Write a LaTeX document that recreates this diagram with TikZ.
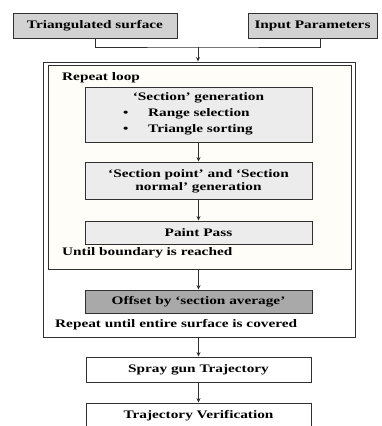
\documentclass[tikz,border=0pt]{standalone}
\usepackage{fontspec}
\setmainfont{Liberation Serif}[FakeStretch=1.33]
\usetikzlibrary{arrows.meta}
\definecolor{topgray}{HTML}{D2D2D2}
\definecolor{secgray}{HTML}{ECECEC}
\definecolor{offgray}{HTML}{A9A9A9}
\definecolor{cream}{HTML}{FFFDF7}
\definecolor{linecol}{HTML}{303030}
\begin{document}
\begin{tikzpicture}[x=1pt,y=-1pt,
  font=\fontsize{11.5}{13}\selectfont\bfseries,
  box/.style={draw=linecol, line width=0.9pt, inner sep=0pt, align=center},
  frame/.style={draw=linecol, line width=0.9pt, inner sep=0pt},
  plain/.style={inner sep=0pt},
  arr/.style={draw=linecol, line width=0.8pt, -{Stealth[length=4.5pt,width=4pt]}},
  link/.style={draw=linecol, line width=0.8pt}]
\useasboundingbox[fill=white] (0,0) rectangle (382,426);

\node[box, fill=topgray, minimum width=164pt, minimum height=25pt] (tri) at (95,25.5) {Triangulated surface};
\node[box, fill=topgray, minimum width=129pt, minimum height=25pt] (inp) at (312.5,25.5) {Input Parameters};

\node[frame, minimum width=312pt, minimum height=275pt] (outer) at (199,199.5) {};
\node[frame, fill=cream, minimum width=303pt, minimum height=204pt] (inner) at (199.5,167) {};

\node[plain, anchor=west] (rl) at (62,78) {Repeat loop};

\node[box, fill=secgray, minimum width=227pt, minimum height=55pt] (sec) at (198.5,114.5) {};
\node[plain] (sect) at (198.5,98) {`Section' generation};
\node[plain, anchor=west] (b1) at (123,113.5) {•};
\node[plain, anchor=west] (r1) at (148,113.5) {Range selection};
\node[plain, anchor=west] (b2) at (123,129.5) {•};
\node[plain, anchor=west] (r2) at (148,129.5) {Triangle sorting};

\node[box, fill=secgray, minimum width=227pt, minimum height=37pt] (pt) at (198.5,180.5) {};
\node[plain] (ptt1) at (198.5,174.5) {`Section point' and `Section};
\node[plain] (ptt2) at (198.5,188) {normal' generation};

\node[box, fill=secgray, minimum width=227pt, minimum height=23pt] (paint) at (198.5,232.5) {Paint Pass};
\node[plain, anchor=west] (ub) at (62,253) {Until boundary is reached};

\node[box, fill=offgray, minimum width=227pt, minimum height=23pt] (off) at (198.5,301.5) {Offset by `section average'};
\node[plain, anchor=west] (ru) at (55,325) {Repeat until entire surface is covered};

\node[box, fill=white, minimum width=225pt, minimum height=25pt] (spray) at (198.5,369.5) {Spray gun Trajectory};
\node[box, fill=white, minimum width=225pt, minimum height=25pt] (traj) at (198.5,415.5) {Trajectory Verification};

\coordinate (j) at (198,47);
\draw[link] (tri.south) |- (j) -| ([xshift=7.5]inp.south);
\draw[arr] (j) -- (j |- outer.north);
\draw[arr] (sec.south) -- (pt.north);
\draw[arr] (pt.south) -- (paint.north);
\draw[arr] (off.north |- inner.south) -- (off.north);
\draw[arr] (spray.north |- outer.south) -- (spray.north);
\draw[arr] (spray.south) -- (traj.north);
\end{tikzpicture}
\end{document}
